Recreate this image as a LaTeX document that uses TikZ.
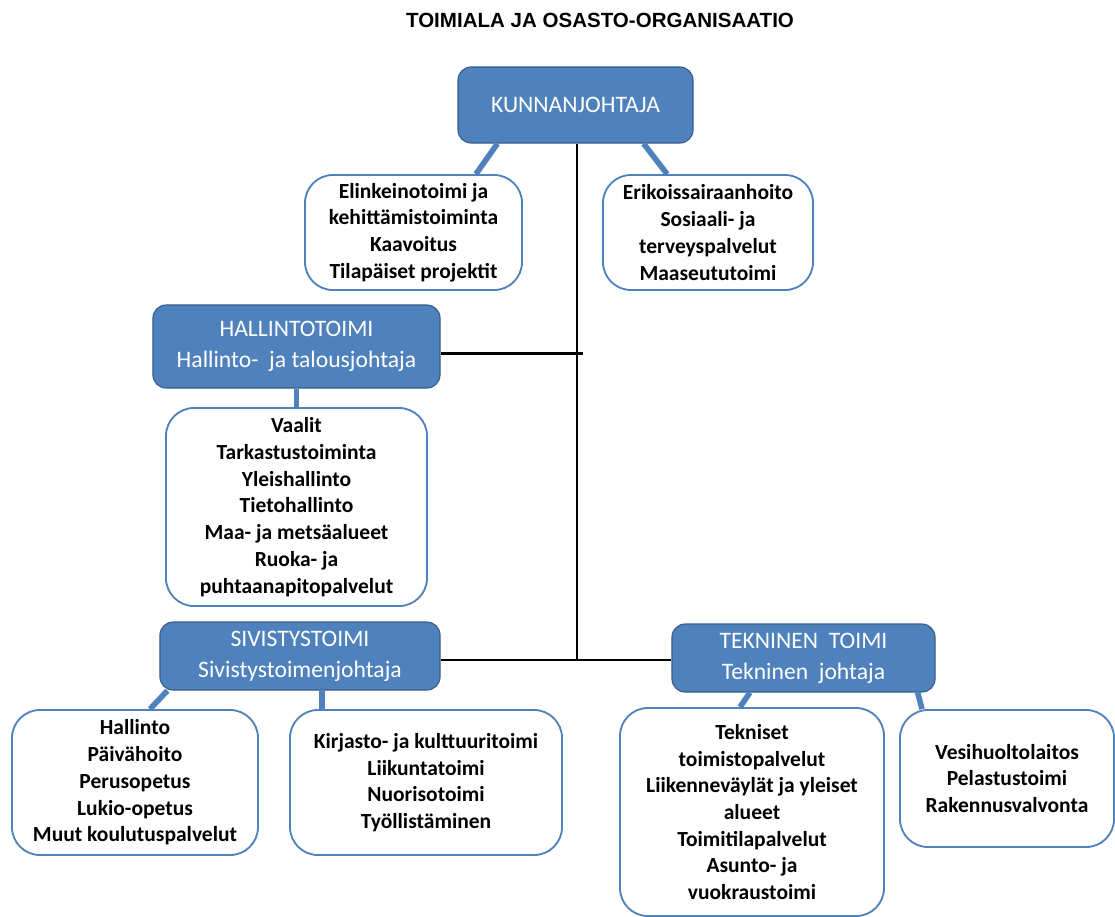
\documentclass[tikz,border=0pt]{standalone}
\usepackage{fontspec}
\setmainfont{Carlito}
\newfontfamily\titlefont{Liberation Sans}
\usepackage{xcolor}
\usepackage{tikz}
\usetikzlibrary{
  calc,
  positioning
}
\definecolor{orgblue}{RGB}{79,129,189}
\definecolor{orgedge}{RGB}{56,93,138}

\begin{document}
\begin{tikzpicture}[x=0.025cm, y=-0.025cm,
  headbox/.style={draw=orgedge, line width=0.8pt, fill=orgblue, rounded corners=0.33cm,
    text=white, align=center, inner sep=0pt, font=\fontsize{16.8}{22}\selectfont},
  listbox/.style={draw=orgblue, line width=1.3pt, fill=white, rounded corners=0.7cm,
    align=center, inner sep=0pt, font=\fontsize{15.3}{19}\selectfont\bfseries},
  bluelink/.style={orgblue, line width=4pt},
  trunk/.style={black, line width=1.7pt}]
  \useasboundingbox (0,0) rectangle (1115,916);

  % Title
  \node[font=\titlefont\bfseries\fontsize{14.6}{17}\selectfont] (title) at (600,20)
    {TOIMIALA JA OSASTO-ORGANISAATIO};

  % Top: KUNNANJOHTAJA
  \node[headbox, minimum width=5.875cm, minimum height=1.9cm] (kunta) at (575.5,105) {KUNNANJOHTAJA};
  \node[listbox, minimum width=5.425cm, minimum height=2.875cm] (elink) at (413.5,232.5)
    {Elinkeinotoimi ja\\kehittämistoiminta\\Kaavoitus\\Tilapäiset projektit};
  \node[listbox, minimum width=5.25cm, minimum height=2.875cm] (erik) at (708,232.5)
    {Erikoissairaanhoito\\Sosiaali- ja\\terveyspalvelut\\Maaseututoimi};

  % Hallintotoimi
  \node[headbox, minimum width=7.175cm, minimum height=2.075cm] (hallinto) at (296.5,346.5)
    {HALLINTOTOIMI\\Hallinto-\ \ ja talousjohtaja};
  \node[listbox, minimum width=6.525cm, minimum height=4.95cm] (vaalit) at (296.5,507)
    {Vaalit\\Tarkastustoiminta\\Yleishallinto\\Tietohallinto\\Maa- ja metsäalueet\\Ruoka- ja\\puhtaanapitopalvelut};

  % Sivistystoimi
  \node[headbox, minimum width=7cm, minimum height=1.7cm] (sivistys) at (300,656)
    {SIVISTYSTOIMI\\Sivistystoimenjohtaja};
  \node[listbox, minimum width=6.15cm, minimum height=3.625cm] (koulu) at (135,782.5)
    {Hallinto\\Päivähoito\\Perusopetus\\Lukio-opetus\\Muut koulutuspalvelut};
  \node[listbox, minimum width=6.8cm, minimum height=3.625cm] (kirjasto) at (426,782.5)
    {Kirjasto- ja kulttuuritoimi\\Liikuntatoimi\\Nuorisotoimi\\Työllistäminen};

  % Tekninen toimi
  \node[headbox, minimum width=6.575cm, minimum height=1.7cm] (tekninen) at (803.5,658)
    {TEKNINEN\ \ TOIMI\\Tekninen\ \ johtaja};
  \node[listbox, minimum width=6.6cm, minimum height=5.2cm] (tekniset) at (752,812)
    {Tekniset\\toimistopalvelut\\Liikenneväylät ja yleiset\\alueet\\Toimitilapalvelut\\Asunto- ja\\vuokraustoimi};
  \node[listbox, minimum width=5.35cm, minimum height=3.425cm] (vesi) at (1007,778.5)
    {Vesihuoltolaitos\\Pelastustoimi\\Rakennusvalvonta};

  % Blue links
  \draw[bluelink] ([xshift=1cm]kunta.south west) -- ([xshift=-1.175cm]elink.north east);
  \draw[bluelink] ([xshift=-1.25cm]kunta.south east) -- ([xshift=1.625cm]erik.north west);
  \draw[bluelink] (hallinto.south) -- (vaalit.north);
  \draw[bluelink] ([xshift=0.2cm]sivistys.south west) -- ([xshift=0.375cm]koulu.north);
  \draw[bluelink] ([xshift=0.55cm]sivistys.south) -- ([xshift=-2.6cm]kirjasto.north);
  \draw[bluelink] ([xshift=-1.34cm]tekninen.south) -- ([xshift=-0.3cm]tekniset.north);
  \draw[bluelink] ([xshift=-0.45cm]tekninen.south east) -- ([xshift=0.575cm]vesi.north west);

  % Black trunk
  \coordinate (spine) at (577,660);
  \draw[trunk] (kunta.south -| spine) -- (spine);
  \draw[trunk] ([yshift=-0.175cm]hallinto.east) -- ([xshift=0.15cm, yshift=-0.175cm]hallinto.east -| spine);
  \draw[trunk] (sivistys.east |- spine) -- (spine) -- (tekninen.west |- spine);
\end{tikzpicture}
\end{document}
